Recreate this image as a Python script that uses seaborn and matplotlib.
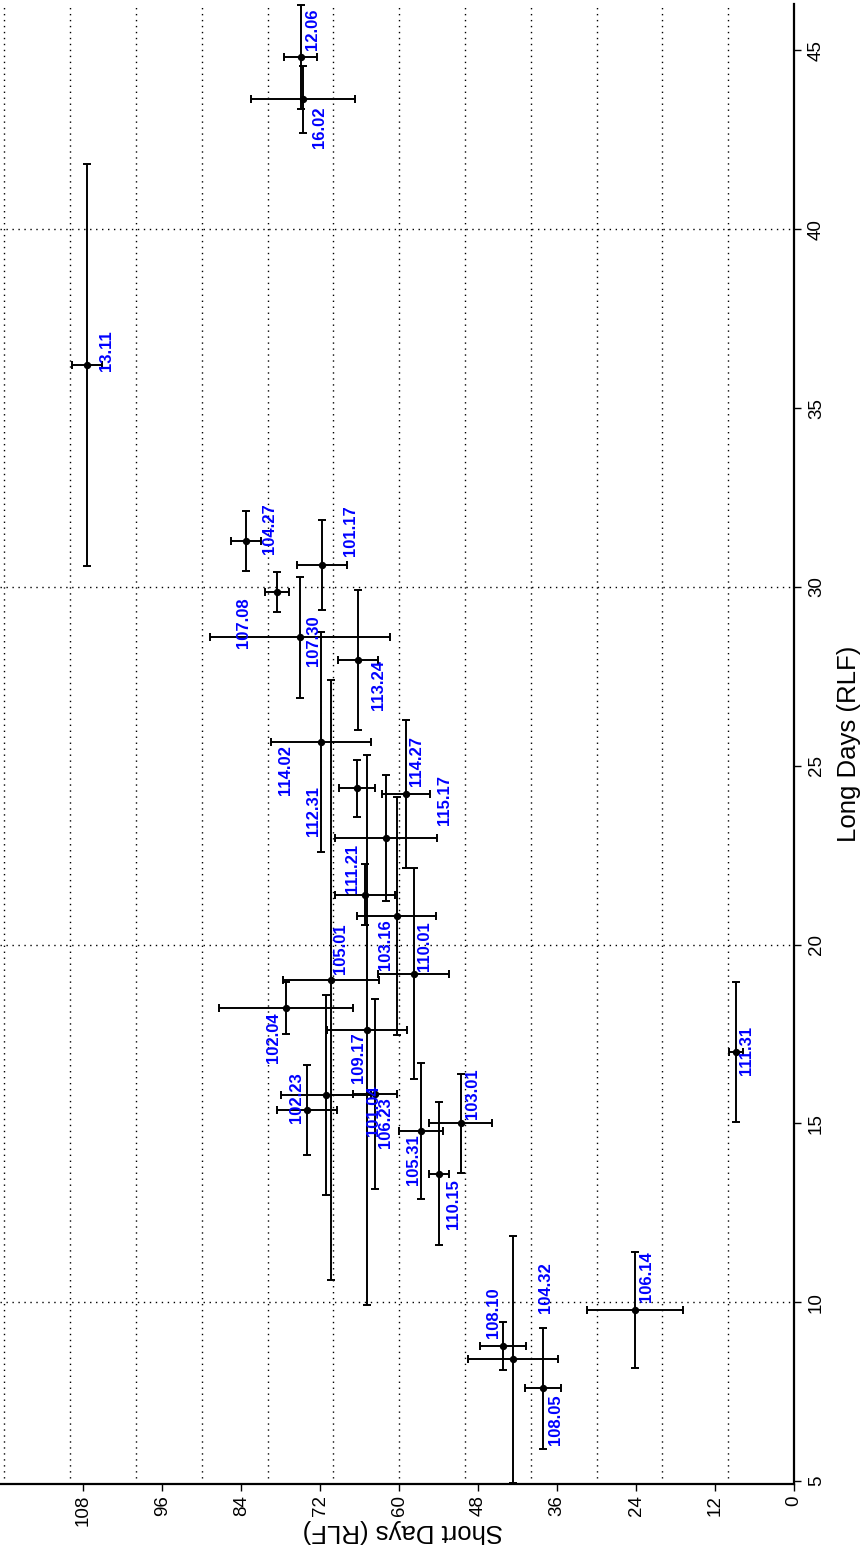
import numpy as np
import pandas as pd
import matplotlib
matplotlib.use("Agg")
import matplotlib.pyplot as plt
import seaborn as sns

labels = ["12.06", "16.02", "13.11", "104.27", "101.17", "107.08", "107.30", "113.24",
          "114.02", "112.31", "114.27", "115.17", "111.21", "103.16", "110.01", "105.01",
          "102.04", "109.17", "111.31", "102.23", "101.04", "106.23", "105.31", "103.01",
          "110.15", "108.10", "104.32", "106.14", "108.05"]
long_days = [44.81, 43.63, 36.22, 31.28, 30.61, 29.85, 28.59, 27.95,
             25.66, 24.37, 24.21, 22.99, 21.40, 20.80, 19.19, 19.01,
             18.22, 17.61, 17.00, 15.37, 15.79, 15.82, 14.79, 15.00,
             13.60, 8.78, 8.41, 9.78, 7.60]
long_se = [1.45, 0.94, 5.62, 0.84, 1.26, 0.56, 1.68, 1.96,
           3.07, 0.79, 2.08, 1.76, 0.85, 3.33, 2.96, 8.38,
           0.73, 7.69, 1.96, 1.26, 2.79, 2.66, 1.89, 1.39,
           2.00, 0.68, 3.45, 1.63, 1.69]
short_days = [74.97, 74.62, 107.45, 83.28, 71.73, 78.57, 75.08, 66.26,
              71.88, 66.41, 58.97, 62.05, 65.20, 60.38, 57.80, 70.36,
              77.20, 64.94, 8.81, 74.01, 71.12, 63.68, 56.73, 50.65,
              54.00, 44.27, 42.75, 24.16, 38.10]
short_se = [2.55, 7.90, 2.28, 2.28, 3.80, 1.82, 13.68, 3.04,
            7.60, 2.78, 3.60, 7.72, 4.60, 6.00, 5.44, 7.26,
            10.14, 6.08, 1.06, 4.56, 6.84, 3.34, 3.34, 4.76,
            1.52, 3.47, 6.87, 7.29, 2.74]
# label offsets from each point, in pixels on the page (right, down)
label_dx = [11.8, 16, 20, 23, 28, -34, 14, 20,
            -36, -44, 10.5, 59, -12, -11, 11, 9.5,
            -13, -8, 10, -11, 47, 11, -7.5, 12,
            14.5, -9.5, 33, 11.5, 12]
label_dy = [-27.7, 28, -14, -13, -35, 30, 3, 25,
            28, 23, -33, -38, -26, 29, -27, -31,
            29, 27, -2, -13, 15, 28, 29, -30,
            31, -33, -72, -34, 32]

df = pd.DataFrame({"label": labels, "long": long_days, "long_se": long_se,
                   "short": short_days, "short_se": short_se})

sns.set_theme(style="white")
plt.rcParams['font.family'] = ['Liberation Sans', 'DejaVu Sans']

W, H = 866, 1548
fig = plt.figure(figsize=(W / 100, H / 100), dpi=100)
ax = fig.add_axes([0 / W, (H - 1484) / H, 794 / W, 1480 / H])

# grid
for v in range(10, 130, 10):
    ax.axvline(v, color="black", lw=1.0, ls=(0, (1, 3.3)), zorder=0)
for v in range(10, 50, 10):
    ax.axhline(v, color="black", lw=1.0, ls=(0, (1, 3.3)), zorder=0)

ax.errorbar(df["short"], df["long"], xerr=df["short_se"], yerr=df["long_se"],
            fmt="none", ecolor="black", elinewidth=1.4, capsize=3.2, capthick=1.4, zorder=2)
sns.scatterplot(data=df, x="short", y="long", color="black", s=28, linewidth=0,
                ax=ax, zorder=3, legend=False)

for lab, x, y, dx, dy in zip(labels, short_days, long_days, label_dx, label_dy):
    ax.annotate(lab, (x, y), xytext=(dx * 0.72, -dy * 0.72), textcoords="offset points",
                rotation=90, ha="center", va="center", color="#0000FF",
                fontsize=12, fontweight="bold", zorder=4)

ax.set_xlim(120.67, 0)
ax.set_ylim(4.92, 46.3)

ax.set_xticks(np.arange(0, 120, 12))
ax.set_yticks(np.arange(5, 50, 5))
ax.tick_params(axis="x", bottom=True, top=False, direction="out", length=5, width=1,
               color="black", labelsize=13.5, labelrotation=90, pad=3, labelcolor="black")
ax.tick_params(axis="y", left=False, right=True, labelleft=False, labelright=True,
               direction="out", length=5, width=1, color="black", labelsize=13.5,
               labelrotation=90, pad=5, labelcolor="black")
for t in ax.get_yticklabels():
    t.set_va("center")

for s in ["top", "left"]:
    ax.spines[s].set_visible(False)
for s in ["bottom", "right"]:
    ax.spines[s].set_color("black")
    ax.spines[s].set_linewidth(1.6)

ax.set_xlabel("Short Days (RLF)", fontsize=18.5, rotation=180, color="black")
ax.xaxis.label.set_va("center")
ax.xaxis.label.set_ha("center")
ax.xaxis.set_label_coords(403 / 794, (1484 - 1531) / 1480)

ax.yaxis.set_label_position("right")
ax.set_ylabel("Long Days (RLF)", fontsize=18.5, rotation=90, color="black")
ax.yaxis.label.set_va("center")
ax.yaxis.label.set_ha("center")
ax.yaxis.set_label_coords(849 / 794, 0.5)

fig.savefig("out.png", dpi=100)
